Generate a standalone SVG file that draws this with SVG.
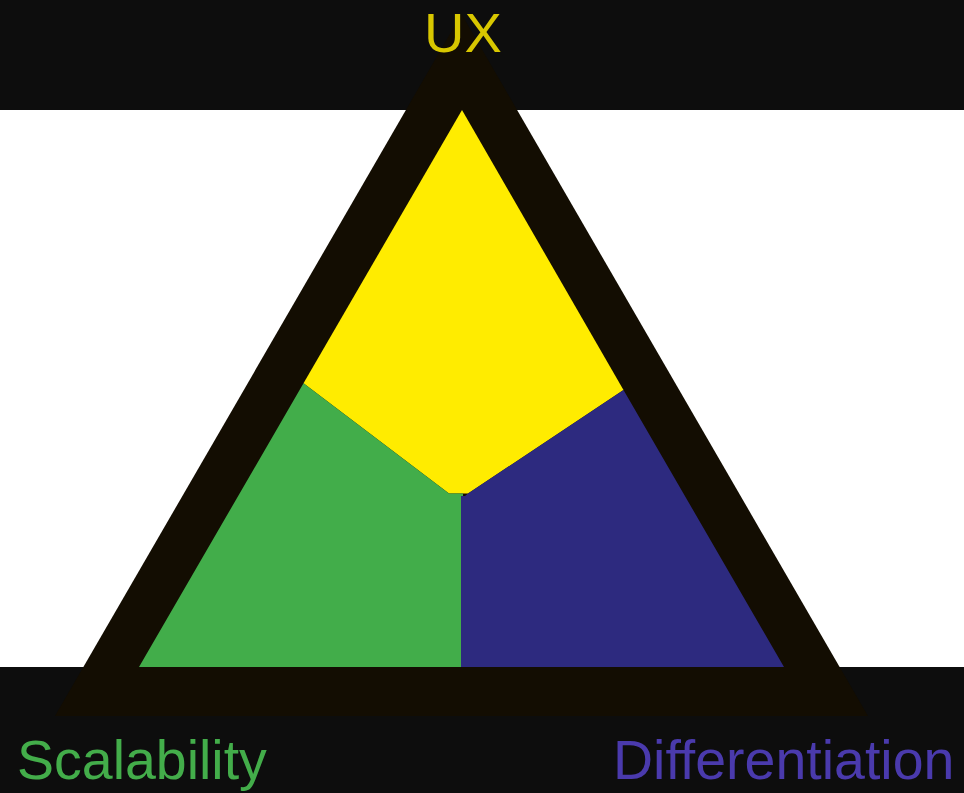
<svg xmlns="http://www.w3.org/2000/svg" width="964" height="793" viewBox="0 0 964 793">
  <style>
    .band { fill: #0d0d0d; }
    .frame { fill: #130d02; }
    .label { font-family: "Liberation Sans", Arial, sans-serif; }
  </style>
  <!-- background -->
  <rect x="0" y="0" width="964" height="793" fill="#ffffff"/>
  <rect class="band" x="0" y="0" width="964" height="110"/>
  <rect class="band" x="0" y="667" width="964" height="126"/>

  <!-- outer frame of the triangle -->
  <g id="frame">
    <polygon class="frame" points="461.5,14 868,716 55,716"/>
  </g>

  <!-- three sectors -->
  <g id="ux-sector">
    <polygon fill="#ffec00" points="462,110 623.5,390 468,493.5 449,493.5 303.5,383.3"/>
  </g>
  <g id="scalability-sector">
    <polygon fill="#42ad4a" points="303.5,383.3 449,493.5 463,493.5 463,496 461,496 461,667 139,667"/>
  </g>
  <g id="differentiation-sector">
    <polygon fill="#2d2a7f" points="623.5,390 784,667 461,667 461,496 465,496 468,493.5"/>
  </g>

  <!-- corner labels -->
  <g id="ux-label">
    <text class="label" x="463" y="52" font-size="56" fill="#d8c700" text-anchor="middle">UX</text>
  </g>
  <g id="scalability-label">
    <text class="label" x="17" y="779" font-size="55.5" fill="#43ad4a">Scalability</text>
  </g>
  <g id="differentiation-label">
    <text class="label" x="613" y="779" font-size="55.5" fill="#4a3aad">Differentiation</text>
  </g>
</svg>
